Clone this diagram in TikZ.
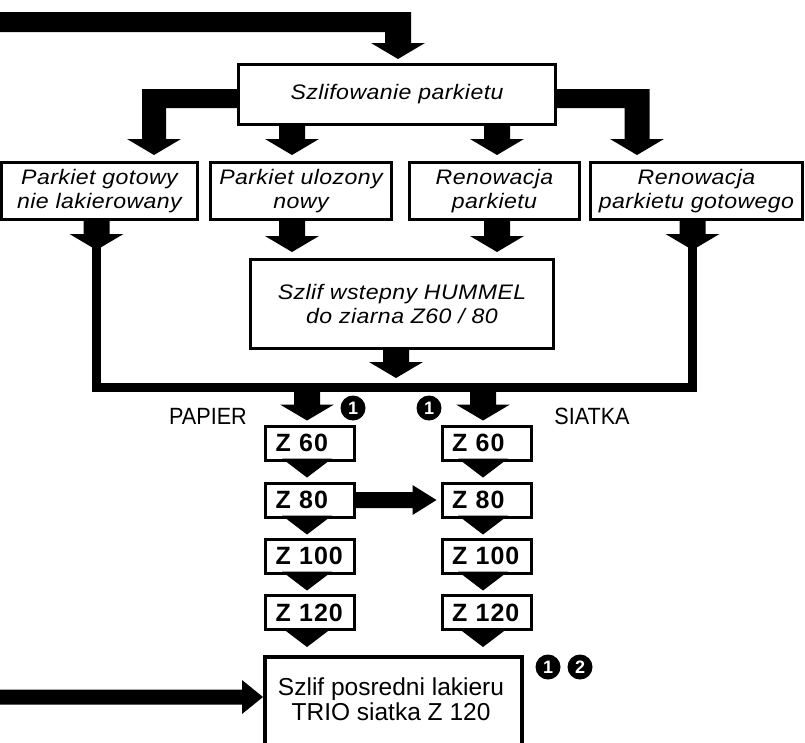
\documentclass[tikz,border=0pt]{standalone}
\usepackage{fontspec}
\setmainfont{Liberation Sans}
\newfontfamily\boxfont[FakeStretch=1.1,LetterSpace=2]{Liberation Sans}
\newfontfamily\gritfont[LetterSpace=4]{Liberation Sans}
\newfontfamily\labfont[FakeStretch=0.92]{Liberation Sans}
\usetikzlibrary{calc}

% fat downward arrow: stem from the level of #1 down to a head whose tip is #2
\newcommand\fatdrop[2]{%
  \fill let \p1=#1, \p2=#2 in
    (\x2-13pt,\y1) -- (\x2+13pt,\y1) -- (\x2+13pt,\y2+16pt) -- (\x2+27pt,\y2+16pt)
    -- (\x2,\y2) -- (\x2-27pt,\y2+16pt) -- (\x2-13pt,\y2+16pt) -- cycle;}
% triangle hanging under a grit box (#1 = box south, #2 = column coordinate)
\newcommand\gritdrop[2]{%
  \fill let \p1=#1, \p2=#2 in
    (\x2-25pt,\y1+3pt) -- (\x2+25pt,\y1+3pt) -- (\x2,\y1-16pt) -- cycle;}
% fat arrow to the right: #1 start, #2 tip, #3 stem half height, #4 head length, #5 head half height
\newcommand\fatright[5]{%
  \fill let \p1=#1, \p2=#2 in
    (\x1,\y2+#3) -- (\x2-#4,\y2+#3) -- (\x2-#4,\y2+#5) -- (\x2,\y2)
    -- (\x2-#4,\y2-#5) -- (\x2-#4,\y2-#3) -- (\x1,\y2-#3) -- cycle;}

\tikzset{
  stage/.style={draw, line width=3pt, inner sep=0pt, align=center,
    font=\boxfont\itshape\fontsize{21}{23.5}\selectfont},
  grit/.style={draw, line width=3pt, minimum width=89pt, minimum height=34pt,
    inner xsep=10pt, inner ysep=0pt, text width=69pt, align=left,
    font=\gritfont\bfseries\fontsize{25}{25}\selectfont},
  paper/.style={font=\labfont\fontsize{23.5}{23.5}\selectfont, inner sep=0pt},
  badge/.style={circle, fill=black, text=white, minimum size=25pt, inner sep=0pt,
    font=\bfseries\fontsize{18}{18}\selectfont},
  bus/.style={line width=9.5pt, line join=miter},
}

\begin{document}
\begin{tikzpicture}[x=1pt,y=-1pt]
\useasboundingbox (0,0) rectangle (805,742);
\clip (0,0) rectangle (805,742);

% process boxes
\node[stage, minimum width=317pt, minimum height=60pt] (main) at (397,94.5) {Szlifowanie parkietu};
\node[stage, minimum width=196pt, minimum height=57pt] (b1) at (99.5,191) {Parkiet gotowy\\nie lakierowany};
\node[stage, minimum width=181pt, minimum height=57pt] (b2) at (301,191) {Parkiet ulozony\\nowy};
\node[stage, minimum width=170pt, minimum height=57pt] (b3) at (494.5,191) {Renowacja\\parkietu};
\node[stage, minimum width=212pt, minimum height=57pt] (b4) at (696.5,191) {Renowacja\\parkietu gotowego};
\node[stage, minimum width=303pt, minimum height=89pt,
      font=\boxfont\itshape\fontsize{21}{24}\selectfont] (hum) at (402,304)
      {Szlif wstepny HUMMEL\\do ziarna Z60 / 80};

% grit sequences
\node[grit] (zL60)  at (310,443)   {Z 60};
\node[grit] (zL80)  at (310,500)   {Z 80};
\node[grit] (zL100) at (310,556)   {Z 100};
\node[grit] (zL120) at (310,612.5) {Z 120};
\node[grit] (zR60)  at (486.5,443)   {Z 60};
\node[grit] (zR80)  at (486.5,500)   {Z 80};
\node[grit] (zR100) at (486.5,556)   {Z 100};
\node[grit] (zR120) at (486.5,612.5) {Z 120};

% final box (runs off the lower edge)
\node[draw, line width=4pt, minimum width=257pt, minimum height=100pt, anchor=north] (frame) at (393.5,655) {};
\node[align=center, font=\fontsize{24.5}{25}\selectfont] (trio) at (391,699) {Szlif posredni lakieru\\TRIO siatka Z 120};

% labels and markers
\node[paper] (papier) at (208,416) {PAPIER};
\node[paper] (siatka) at (592,416.5) {SIATKA};
\node[badge] (n1L) at (353,408) {1};
\node[badge] (n1R) at (429,408) {1};
\node[badge] (n1B) at (548,667) {1};
\node[badge] (n2B) at (580,667) {2};

% reference points
\coordinate (feedT) at (0,22);
\coordinate (tMain) at (398,59);
\coordinate (tB1) at (154,155);
\coordinate (tB2) at (292,155);
\coordinate (tB3) at (497,155);
\coordinate (tB4) at (637,155);
\coordinate (tL) at (96.5,250);
\coordinate (tR) at (692.5,250);
\coordinate (tH2) at (292,252);
\coordinate (tH3) at (497,252);
\coordinate (tBus) at (396,378);
\coordinate (busL) at (96.5,387.5);
\coordinate (busR) at (692.5,387.5);
\coordinate (colL) at (307,0);
\coordinate (colR) at (483,0);
\coordinate (feedB) at (0,697);

% incoming feed into the main box
\fill let \p1=(feedT), \p2=(tMain) in
  (\x1,\y1+10pt) -- (\x2+13pt,\y1+10pt) -- (\x2+13pt,\y2+16pt) -- (\x2+27pt,\y2+16pt)
  -- (\x2,\y2) -- (\x2-27pt,\y2+16pt) -- (\x2-13pt,\y2+16pt) -- (\x2-13pt,\y1-10pt)
  -- (\x1,\y1-10pt) -- cycle;

% side branches of the main box
\fill let \p1=(main.west), \p2=(tB1) in
  (\x1,\y1+5.5pt) -- (\x2-12pt,\y1+5.5pt) -- (\x2-12pt,\y2+16pt) -- (\x2-27pt,\y2+16pt)
  -- (\x2,\y2) -- (\x2+27pt,\y2+16pt) -- (\x2+12pt,\y2+16pt) -- (\x2+12pt,\y1-13.5pt)
  -- (\x1,\y1-13.5pt) -- cycle;
\fill let \p1=(main.east), \p2=(tB4) in
  (\x1,\y1+5.5pt) -- (\x2+12.5pt,\y1+5.5pt) -- (\x2+12.5pt,\y2+16pt) -- (\x2+27pt,\y2+16pt)
  -- (\x2,\y2) -- (\x2-27pt,\y2+16pt) -- (\x2-12.5pt,\y2+16pt) -- (\x2-12.5pt,\y1-13.5pt)
  -- (\x1,\y1-13.5pt) -- cycle;

% middle branches
\fatdrop{(main.south)}{(tB2)}
\fatdrop{(main.south)}{(tB3)}

% out of the four variants
\fatdrop{(b1.south)}{(tL)}
\fatdrop{(b2.south)}{(tH2)}
\fatdrop{(b3.south)}{(tH3)}
\fatdrop{(b4.south)}{(tR)}

% pre-sanding into the collecting line
\fatdrop{(hum.south)}{(tBus)}
\draw[bus] ($(tL)+(0,-3)$) -- (busL) -- (busR) -- ($(tR)+(0,-3)$);

% into the two grit columns
\fatdrop{(busL)}{($(colL |- zL60.north)+(0,-4)$)}
\fatdrop{(busL)}{($(colR |- zR60.north)+(0,-4)$)}

% steps within the columns
\gritdrop{(zL60.south)}{(colL)}
\gritdrop{(zL80.south)}{(colL)}
\gritdrop{(zL100.south)}{(colL)}
\gritdrop{(zL120.south)}{(colL)}
\gritdrop{(zR60.south)}{(colR)}
\gritdrop{(zR80.south)}{(colR)}
\gritdrop{(zR100.south)}{(colR)}
\gritdrop{(zR120.south)}{(colR)}

% cross-over from paper to mesh
\fatright{(zL80.east)}{($(zR80.west)+(-4,0)$)}{8pt}{24pt}{15pt}

% incoming feed into the final box
\fatright{(feedB)}{(frame.west |- feedB)}{7.5pt}{21pt}{17pt}
\end{tikzpicture}
\end{document}
